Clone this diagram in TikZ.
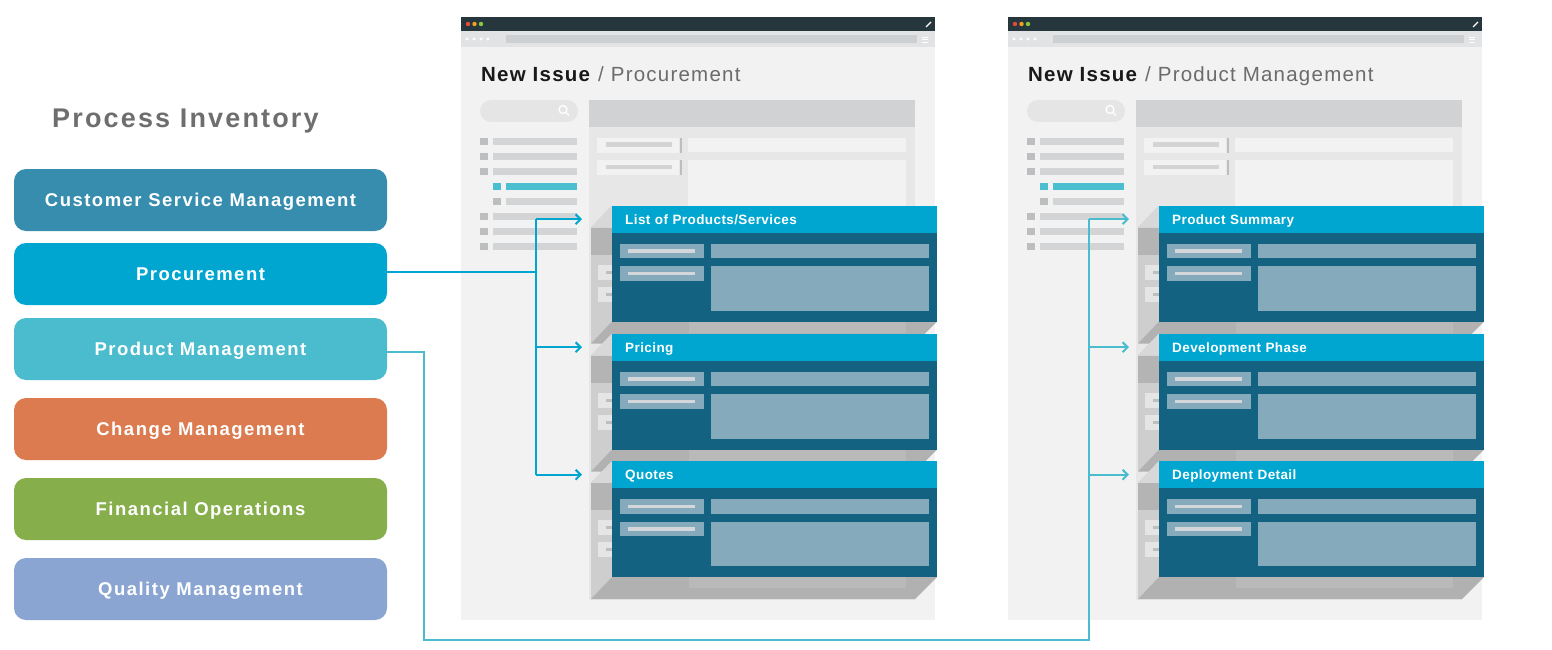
\documentclass[tikz,border=0pt]{standalone}
\usepackage{fontspec}
\setmainfont{Liberation Sans}
\newfontfamily\widefont[LetterSpace=8]{Liberation Sans}
\newfontfamily\crumbfont[LetterSpace=6]{Liberation Sans}
\newfontfamily\cardfont[LetterSpace=3]{Liberation Sans}
\usetikzlibrary{arrows.meta}

\definecolor{titlegray}{HTML}{6E6E6E}
\definecolor{crumbgray}{HTML}{6B6B6B}
\definecolor{csmblue}{HTML}{378DAE}
\definecolor{procblue}{HTML}{00A6CF}
\definecolor{pmteal}{HTML}{4ABCCE}
\definecolor{chgorange}{HTML}{DB7B4F}
\definecolor{fingreen}{HTML}{86AE4B}
\definecolor{qualblue}{HTML}{8AA5D2}
\definecolor{topbar}{HTML}{25373C}
\definecolor{pagegray}{HTML}{F2F2F2}
\definecolor{addrgray}{HTML}{E2E3E4}
\definecolor{addrbar}{HTML}{CDD0D2}
\definecolor{searchgray}{HTML}{E5E5E5}
\definecolor{sidegray}{HTML}{D3D4D6}
\definecolor{sqgray}{HTML}{BDBEC0}
\definecolor{itemteal}{HTML}{4BBFD0}
\definecolor{panelgray}{HTML}{E7E7E7}
\definecolor{headgray}{HTML}{D1D2D4}
\definecolor{cardbody}{HTML}{136281}
\definecolor{cardfield}{HTML}{85AABB}
\definecolor{fieldline}{HTML}{D3D7DA}
\definecolor{facegray}{HTML}{CECECE}
\definecolor{facetop}{HTML}{D8D8D8}
\definecolor{faceband}{HTML}{B4B4B4}
\definecolor{bottomgray}{HTML}{B1B1B1}
\definecolor{bottomlight}{HTML}{B9B9B9}
\definecolor{dotred}{HTML}{E8493A}
\definecolor{dotorange}{HTML}{F3A31A}
\definecolor{dotgreen}{HTML}{8CC63F}

\tikzset{
  procbox/.style={rounded corners=12pt, minimum width=373pt, minimum height=62pt,
    text height=13pt, text depth=0pt,
    text=white, font=\widefont\bfseries\fontsize{18.5}{20}\selectfont},
  cardhead/.style={fill=procblue, anchor=north west, minimum height=27pt,
    text width=299pt, text height=10pt, text depth=0pt, inner xsep=13pt, inner ysep=0pt,
    align=left, text=white, font=\cardfont\bfseries\fontsize{13.5}{15}\selectfont},
  crumb/.style={anchor=base west, inner sep=0pt, text=black!90,
    font=\crumbfont\fontsize{20.5}{24}\selectfont},
  feed/.style={line width=2pt, -{Straight Barb[length=5pt,width=10pt]}, shorten >=30pt},
}

\begin{document}
\begin{tikzpicture}[x=1pt,y=-1pt]
\useasboundingbox (0,0) rectangle (1552,650);

\node[anchor=base west, inner sep=0pt, text=titlegray,
  font=\widefont\bfseries\fontsize{27}{30}\selectfont] (inv) at (52,128) {Process Inventory};

\node[procbox, fill=csmblue] (csm) at (200.5,200) {Customer Service Management};
\node[procbox, fill=procblue] (proc) at (200.5,274) {Procurement};
\node[procbox, fill=pmteal] (prodm) at (200.5,349) {Product Management};
\node[procbox, fill=chgorange] (chg) at (200.5,429) {Change Management};
\node[procbox, fill=fingreen] (fin) at (200.5,509) {Financial Operations};
\node[procbox, fill=qualblue] (qual) at (200.5,589) {Quality Management};

\foreach \wx in {461,1008} {
  \fill[pagegray] (\wx,47) rectangle (\wx+474,620);
  \fill[topbar] (\wx,17) rectangle (\wx+474,31);
  \fill[addrgray] (\wx,31) rectangle (\wx+474,47);
  \fill[addrbar] (\wx+45,35) rectangle (\wx+456,43);
  \fill[dotred] (\wx+7,24) circle (2.2);
  \fill[dotorange] (\wx+13.5,24) circle (2.2);
  \fill[dotgreen] (\wx+20,24) circle (2.2);
  \draw[white, line width=1.2pt] (\wx+465,27) -- (\wx+470,22);
  \foreach \nx in {6,13,20,27}
    \fill[white] (\wx+\nx,39) circle (1.6);
  \foreach \hy in {37,39.5,42}
    \draw[white, line width=.8pt] (\wx+461,\hy) -- (\wx+467,\hy);
  \fill[searchgray, rounded corners=11pt] (\wx+19,100) rectangle (\wx+117,122);
  \draw[white, line width=1.3pt] (\wx+102,109.5) circle (4) (\wx+105,112.5) -- (\wx+108,115.5);
  \foreach \ry in {141.5,156,171.5,216.5,231.5,246.5} {
    \fill[sqgray] (\wx+19,\ry-3.5) rectangle (\wx+27,\ry+3.5);
    \fill[sidegray] (\wx+32,\ry-3.5) rectangle (\wx+116,\ry+3.5);
  }
  \fill[itemteal] (\wx+32,182.5) rectangle (\wx+40,189.5);
  \fill[itemteal] (\wx+45,182.5) rectangle (\wx+116,189.5);
  \fill[sqgray] (\wx+32,197.5) rectangle (\wx+40,204.5);
  \fill[sidegray] (\wx+45,197.5) rectangle (\wx+116,204.5);
  \fill[panelgray] (\wx+128,100) rectangle (\wx+454,600);
  \fill[headgray] (\wx+128,100) rectangle (\wx+454,127);
  \foreach \fy in {138,160} {
    \fill[pagegray] (\wx+136,\fy) rectangle (\wx+218,\fy+14.5);
    \fill[sidegray] (\wx+145,\fy+4.5) rectangle (\wx+211,\fy+9);
    \fill[sqgray] (\wx+219,\fy) rectangle (\wx+221,\fy+14.5);
  }
  \fill[pagegray] (\wx+227,138) rectangle (\wx+445,152);
  \fill[pagegray] (\wx+227,160) rectangle (\wx+445,590);
  \foreach \cy in {205.5,333.5,461} {
    \fill[facegray] (\wx+151,\cy) -- (\wx+130,\cy+22) -- (\wx+130,\cy+138) -- (\wx+151,\cy+116) -- cycle;
    \fill[facetop] (\wx+151,\cy) -- (\wx+130,\cy+22) -- (\wx+151,\cy+22) -- cycle;
    \fill[faceband] (\wx+130,\cy+22) rectangle (\wx+151,\cy+49);
    \foreach \ly in {59,81} {
      \fill[searchgray] (\wx+137,\cy+\ly) rectangle (\wx+151,\cy+\ly+15);
      \fill[sqgray] (\wx+145,\cy+\ly+6) rectangle (\wx+151,\cy+\ly+9);
    }
    \fill[bottomgray] (\wx+151,\cy+116) -- (\wx+476,\cy+116) -- (\wx+454,\cy+138) -- (\wx+130,\cy+138) -- cycle;
    \fill[bottomlight] (\wx+228,\cy+116) rectangle (\wx+445,\cy+127);
    \fill[cardbody] (\wx+151,\cy+27) rectangle (\wx+476,\cy+116);
    \foreach \ly in {38,60.5} {
      \fill[cardfield] (\wx+159,\cy+\ly) rectangle (\wx+243,\cy+\ly+14.5);
      \fill[fieldline] (\wx+167,\cy+\ly+5.5) rectangle (\wx+234,\cy+\ly+9);
    }
    \fill[cardfield] (\wx+250,\cy+38) rectangle (\wx+468,\cy+52.5);
    \fill[cardfield] (\wx+250,\cy+60.5) rectangle (\wx+468,\cy+105);
  }
}

\node[crumb] (ta) at (481,82) {\textbf{New Issue} \textcolor{crumbgray}{/ Procurement}};
\node[crumb] (tb) at (1028,82) {\textbf{New Issue} \textcolor{crumbgray}{/ Product Management}};

\node[cardhead] (a1) at (612,205.5) {List of Products/Services};
\node[cardhead] (a2) at (612,333.5) {Pricing};
\node[cardhead] (a3) at (612,461) {Quotes};
\node[cardhead] (b1) at (1159,205.5) {Product Summary};
\node[cardhead] (b2) at (1159,333.5) {Development Phase};
\node[cardhead] (b3) at (1159,461) {Deployment Detail};

\coordinate (pbus) at (536,272);
\draw[procblue, line width=2pt] (proc.east |- pbus) -- (pbus);
\draw[procblue, line width=2pt] (pbus |- a1.west) -- (pbus |- a3.west);
\foreach \c in {a1,a2,a3}
  \draw[feed, procblue] (pbus |- \c.west) -- (\c.west);

\coordinate (mturn) at (424,352);
\coordinate (mbus) at (1089,640);
\draw[pmteal, line width=2pt] (prodm.east |- mturn) -- (mturn) -- (mturn |- mbus) -- (mbus) -- (mbus |- b1.west);
\foreach \c in {b1,b2,b3}
  \draw[feed, pmteal] (mbus |- \c.west) -- (\c.west);
\end{tikzpicture}
\end{document}
